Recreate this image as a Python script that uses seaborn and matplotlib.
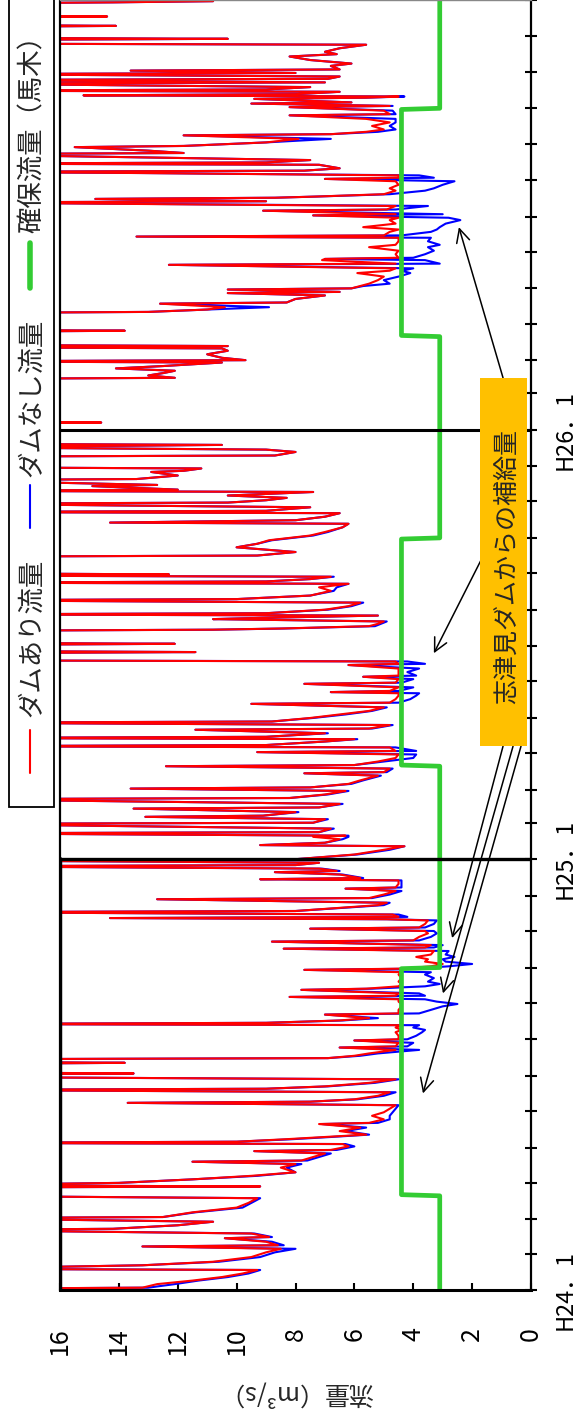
import matplotlib
matplotlib.use('Agg')
import matplotlib.pyplot as plt
import matplotlib.dates as mdates
from matplotlib.lines import Line2D
from matplotlib.patches import Rectangle
from matplotlib.ticker import FuncFormatter
import seaborn as sns
import pandas as pd

# daily flow at Magi (m3/s), day = days since 2012-01-01 (H24.1.1)
# values above 16 run off the chart, so they are only rough guesses
h24_day = [0, 1, 2, 5, 8, 11, 14, 17, 18, 20,
           21, 24, 28, 32, 35, 37, 38, 41, 44, 45,
           48, 51, 52, 55, 58, 61, 62, 66, 70, 74,
           78, 80, 87, 88, 89, 91, 94, 97, 100, 104,
           107, 109, 110, 113, 116, 118, 119, 122, 124, 125,
           126, 128, 130, 132, 135, 138, 141, 142, 145, 148,
           151, 154, 157, 159, 160, 162, 165, 168, 170, 171,
           173, 176, 179, 181, 183, 184, 185, 192, 193, 194,
           196, 197, 199, 201, 204, 206, 207, 210, 212, 213,
           216, 219, 221, 223, 225, 226, 227, 229, 231, 234,
           235, 238, 241, 243, 245, 247, 249, 250, 252, 255,
           256, 258, 260, 262, 265, 268, 270, 272, 273, 275,
           277, 279, 281, 283, 285, 288, 290, 291, 293, 296,
           297, 300, 303, 305, 307, 308, 311, 314, 315, 316,
           317, 319, 321, 322, 325, 327, 329, 332, 333, 336,
           339, 341, 342, 345, 348, 349, 350, 353, 355, 356,
           358, 360, 361, 363, 365]
h24_dam = [13.0, 20, 13.2, 12.7, 11.5, 10.5, 9.8, 9.3, 20, 15.6,
           13.2, 10.8, 9.5, 9.0, 8.5, 13.2, 8.6, 9.0, 10.4, 8.9,
           9.5, 20, 14.2, 12.0, 10.8, 20, 12.5, 11.5, 10.0, 9.6,
           9.3, 20, 20, 9.2, 20, 14.0, 11.5, 9.5, 8.0, 8.5,
           8.0, 11.5, 7.8, 7.4, 7.0, 9.4, 6.8, 6.2, 6.4, 20,
           10.0, 8.4, 7.0, 5.6, 6.5, 5.8, 7.2, 5.5, 5.0, 5.4,
           5.0, 4.8, 4.6, 13.7, 7.5, 6.0, 5.2, 4.8, 20, 9.0,
           7.0, 5.5, 4.6, 20, 20, 13.5, 20, 20, 13.8, 20,
           20, 6.9, 6.0, 5.5, 4.6, 6.5, 4.6, 4.5, 6.0, 4.5,
           4.5, 4.6, 4.4, 4.6, 4.4, 20, 9.0, 6.5, 5.5, 7.0,
           4.5, 4.5, 4.4, 4.4, 4.5, 4.5, 8.2, 4.6, 4.5, 7.8,
           5.6, 4.5, 4.4, 4.5, 4.4, 4.5, 4.4, 7.7, 4.4, 3.4,
           3.0, 3.6, 3.5, 3.9, 3.4, 3.3, 8.4, 3.6, 3.4, 8.8,
           4.0, 3.8, 3.5, 3.6, 7.5, 3.8, 3.6, 3.5, 4.9, 14.3,
           4.5, 4.7, 20, 8.0, 6.3, 5.2, 4.9, 12.7, 5.5, 5.0,
           4.6, 6.3, 4.6, 4.5, 4.5, 9.2, 5.8, 6.5, 8.7, 6.6,
           7.2, 20, 8.0, 7.2, 20]
h24_nodam = [13.0, 20, 13.0, 12.1, 11.3, 10.3, 9.6, 9.2, 20, 15.6,
             13.2, 10.6, 9.2, 8.7, 8.0, 13.2, 8.4, 8.8, 10.4, 8.8,
             9.4, 20, 14.2, 12.0, 10.8, 20, 12.5, 11.4, 9.8, 9.5,
             9.2, 20, 20, 9.2, 20, 14.0, 11.5, 9.3, 8.0, 8.3,
             7.8, 11.5, 7.6, 7.2, 6.8, 9.4, 6.6, 6.0, 6.3, 20,
             10.0, 8.2, 6.8, 5.5, 6.3, 5.6, 7.1, 5.2, 4.8, 4.8,
             4.7, 4.6, 4.5, 13.7, 7.5, 5.9, 5.0, 4.6, 20, 9.0,
             6.9, 5.3, 4.5, 20, 20, 13.5, 20, 20, 13.8, 20,
             20, 6.9, 5.8, 5.2, 3.8, 6.5, 4.2, 4.0, 6.0, 4.2,
             3.9, 3.7, 3.6, 4.0, 3.8, 20, 9.0, 6.4, 5.2, 7.0,
             3.8, 3.4, 3.0, 2.5, 3.2, 3.6, 8.2, 3.6, 3.8, 7.8,
             5.4, 3.6, 3.1, 3.5, 3.3, 3.6, 3.4, 7.7, 4.0, 2.8,
             2.0, 2.9, 3.0, 2.6, 2.9, 2.8, 8.4, 3.3, 3.0, 8.8,
             3.8, 3.4, 3.2, 3.3, 7.5, 3.6, 3.3, 3.2, 4.9, 14.3,
             4.2, 4.5, 20, 8.0, 6.2, 5.0, 4.8, 12.7, 5.4, 4.8,
             4.4, 6.3, 4.4, 4.4, 4.4, 9.2, 5.7, 6.4, 8.7, 6.5,
             7.1, 20, 8.0, 7.2, 20]

h25_day = [366, 370, 374, 377, 378, 380, 383, 385, 386, 388,
           389, 392, 396, 397, 400, 402, 403, 406, 409, 410,
           413, 417, 418, 421, 424, 426, 427, 430, 433, 437,
           439, 440, 443, 445, 446, 449, 452, 455, 457, 458,
           461, 462, 463, 466, 468, 469, 470, 473, 476, 477,
           480, 482, 483, 486, 489, 492, 495, 498, 499, 502,
           505, 507, 508, 509, 512, 515, 516, 519, 521, 522,
           525, 528, 531, 532, 534, 535, 541, 542, 543, 548,
           549, 550, 560, 561, 562, 564, 566, 568, 570, 571,
           573, 574, 575, 578, 581, 584, 586, 587, 590, 594,
           597, 600, 601, 602, 604, 606, 607, 608, 609, 623,
           624, 627, 631, 634, 637, 641, 644, 648, 651, 652,
           654, 657, 660, 661, 662, 665, 668, 669, 671, 673,
           675, 678, 679, 680, 683, 684, 688, 689, 692, 695,
           696, 698, 699, 708, 709, 712, 714, 716, 718, 719,
           730]
h25_dam = [8.0, 6.0, 5.0, 4.3, 9.2, 7.0, 6.5, 7.4, 6.3, 20,
           7.2, 6.8, 20, 7.4, 7.0, 13.1, 9.1, 8.0, 13.5, 7.2,
           6.5, 20, 8.2, 7.0, 6.3, 13.6, 7.5, 6.2, 5.8, 5.2,
           7.7, 5.0, 4.8, 12.4, 6.0, 5.2, 4.6, 4.5, 9.3, 4.6,
           4.8, 20, 9.0, 7.0, 6.0, 20, 9.0, 7.0, 11.4, 5.5,
           4.8, 20, 8.8, 7.5, 6.5, 5.5, 5.0, 9.5, 4.8, 4.6,
           4.5, 4.5, 6.8, 4.8, 4.5, 7.7, 4.6, 4.5, 5.7, 4.5,
           4.5, 4.5, 6.2, 4.5, 4.6, 20, 20, 11.4, 20, 20,
           12.1, 20, 20, 10.8, 8.5, 5.5, 5.2, 5.0, 10.8, 9.3,
           5.2, 20, 9.0, 7.0, 6.2, 5.8, 20, 10.0, 7.5, 6.8,
           7.2, 6.2, 20, 9.0, 7.5, 6.8, 20, 12.3, 20, 20,
           9.3, 8.0, 10.0, 9.3, 8.9, 7.5, 7.0, 6.4, 6.2, 14.3,
           8.0, 7.0, 6.5, 20, 9.0, 7.5, 20, 10.3, 9.0, 8.3,
           10.3, 7.4, 20, 12.0, 14.9, 12.7, 20, 13.4, 12.0, 12.9,
           11.8, 11.2, 20, 20, 8.7, 8.0, 9.0, 20, 10.5, 20,
           20]
h25_nodam = [8.0, 5.9, 4.8, 4.3, 9.2, 7.0, 6.4, 6.2, 6.2, 20,
             7.2, 6.7, 20, 7.4, 6.9, 13.1, 9.1, 7.9, 13.5, 7.2,
             6.4, 20, 8.2, 6.9, 6.2, 13.6, 7.5, 6.1, 5.7, 5.1,
             7.7, 4.9, 4.7, 12.4, 6.0, 5.0, 4.0, 3.9, 9.3, 3.9,
             4.6, 20, 9.0, 7.0, 5.9, 20, 9.0, 6.9, 11.4, 5.4,
             4.7, 20, 8.8, 7.4, 6.3, 5.4, 4.9, 9.5, 4.5, 4.1,
             3.9, 3.8, 6.8, 4.5, 4.0, 7.7, 4.4, 4.0, 5.7, 3.9,
             4.2, 3.8, 6.2, 3.6, 4.2, 20, 20, 11.4, 20, 20,
             12.1, 20, 20, 10.8, 8.4, 5.3, 5.1, 4.9, 10.8, 9.2,
             5.2, 20, 9.0, 6.9, 6.1, 5.7, 20, 10.0, 7.5, 6.7,
             6.6, 6.2, 20, 9.0, 7.5, 6.7, 20, 12.3, 20, 20,
             9.3, 8.0, 10.0, 9.3, 8.8, 7.4, 6.9, 6.4, 6.2, 14.3,
             8.0, 7.0, 6.5, 20, 9.0, 7.5, 20, 10.3, 9.0, 8.3,
             10.3, 7.4, 20, 12.0, 14.9, 12.7, 20, 13.4, 12.0, 12.9,
             11.8, 11.2, 20, 20, 8.7, 8.0, 9.0, 20, 10.5, 20,
             20]

h26_day = [731, 736, 737, 738, 774, 775, 777, 779, 781, 783,
           785, 788, 789, 790, 792, 795, 798, 800, 801, 802,
           803, 814, 815, 816, 830, 831, 833, 835, 838, 839,
           842, 845, 847, 848, 850, 851, 853, 855, 858, 861,
           864, 866, 868, 871, 872, 875, 876, 877, 880, 883,
           886, 888, 891, 894, 895, 896, 899, 901, 903, 906,
           909, 911, 913, 914, 917, 918, 921, 924, 925, 927,
           928, 929, 931, 934, 936, 939, 942, 944, 945, 947,
           949, 950, 951, 953, 956, 957, 958, 960, 965, 966,
           968, 971, 972, 975, 978, 981, 982, 984, 986, 989,
           992, 995, 998, 999, 1002, 1005, 1006, 1008, 1009, 1012,
           1013, 1014, 1015, 1016, 1018, 1019, 1020, 1022, 1025, 1026,
           1028, 1029, 1031, 1033, 1034, 1036, 1037, 1040, 1042, 1045,
           1048, 1050, 1052, 1055, 1058, 1059, 1062, 1063, 1064, 1073,
           1074, 1075, 1081, 1082, 1083, 1093, 1094, 1095]
h26_dam = [20, 20, 14.6, 20, 20, 12.1, 13.0, 12.5, 12.1, 14.1,
           12.5, 10.5, 20, 9.7, 10.5, 11.0, 10.3, 10.5, 20, 10.3,
           20, 20, 13.8, 20, 20, 13.0, 11.0, 10.4, 12.6, 8.3,
           8.0, 7.0, 10.3, 6.5, 10.3, 6.1, 5.8, 5.5, 5.2, 5.0,
           5.9, 4.8, 4.6, 12.3, 4.6, 7.1, 7.0, 4.5, 4.6, 4.5,
           5.5, 4.6, 4.5, 4.5, 13.4, 5.0, 4.8, 4.5, 5.7, 4.6,
           4.8, 4.5, 7.4, 4.6, 9.1, 4.9, 4.6, 20, 9.0, 14.8,
           8.7, 7.3, 5.0, 4.6, 4.8, 4.5, 4.6, 7.0, 4.5, 4.5,
           13.3, 20, 7.7, 6.5, 7.2, 20, 9.0, 7.5, 20, 11.8,
           13.0, 15.5, 11.8, 9.0, 7.9, 11.8, 6.8, 5.6, 5.0, 5.4,
           4.8, 5.6, 8.2, 4.8, 5.0, 8.2, 4.8, 9.5, 6.1, 9.4,
           5.6, 4.5, 15.2, 8.0, 6.5, 20, 9.0, 7.5, 20, 7.0,
           20, 6.9, 6.5, 20, 8.0, 13.6, 6.5, 6.8, 6.1, 7.5,
           8.2, 6.6, 7.0, 6.5, 5.6, 20, 20, 10.3, 20, 20,
           14.1, 20, 20, 14.4, 20, 20, 14.2, 10.8]
h26_nodam = [20, 20, 14.6, 20, 20, 12.1, 13.0, 12.5, 12.1, 14.1,
             12.5, 10.5, 20, 9.7, 10.5, 11.0, 10.3, 10.5, 20, 10.3,
             20, 20, 13.8, 20, 20, 13.0, 11.0, 8.9, 12.6, 8.3,
             8.0, 7.0, 10.3, 6.5, 10.3, 6.1, 5.7, 4.8, 5.0, 4.5,
             4.1, 4.4, 4.0, 12.3, 3.1, 3.6, 7.0, 4.0, 3.6, 3.3,
             3.5, 3.1, 3.5, 3.4, 13.4, 4.4, 3.4, 3.2, 3.1, 2.9,
             2.4, 2.8, 7.4, 3.0, 9.1, 4.6, 3.5, 20, 9.0, 14.8,
             8.7, 7.3, 4.8, 3.6, 3.3, 3.0, 2.6, 7.0, 3.3, 3.8,
             13.3, 20, 7.7, 6.5, 7.2, 20, 9.0, 7.5, 20, 11.8,
             13.0, 15.5, 11.8, 9.0, 6.8, 11.8, 6.8, 5.2, 4.6, 4.8,
             4.6, 4.6, 8.2, 4.6, 4.7, 8.2, 4.7, 9.5, 6.1, 9.4,
             5.6, 4.3, 15.2, 8.0, 6.5, 20, 9.0, 7.5, 20, 7.0,
             20, 6.9, 6.5, 20, 8.0, 13.6, 6.5, 6.8, 6.1, 7.5,
             8.2, 6.6, 7.0, 6.5, 5.6, 20, 20, 10.3, 20, 20,
             14.1, 20, 20, 14.4, 20, 20, 14.2, 10.8]

# secured flow at Magi (step between seasons)
kakuho_day = [0, 80, 81, 273, 274, 445, 446, 638, 639, 810, 811, 1003, 1004, 1096]
kakuho_q = [3.1, 3.1, 4.4, 4.4, 3.1, 3.1, 4.4, 4.4, 3.1, 3.1, 4.4, 4.4, 3.1, 3.1]

legend_labels = ['ダムあり流量', 'ダムなし流量', '確保流量（馬木）']
legend_colors = ['#FF0000', '#0000FF', '#33CC33']
box_label = '志津見ダムからの補給量'

# arrows from the orange box (flow, day)
arrow_tip_q = [2.45, 3.3, 2.68, 2.99, 3.67]
arrow_tip_day = [903, 541, 299, 252, 167]
arrow_from_q = [0.95, 1.7, 0.95, 0.61, 0.34]
arrow_from_day = [775, 620, 462, 462, 462]

sns.set_theme(style='white')
plt.rcParams['font.family'] = ['Noto Sans CJK JP', 'DejaVu Sans']

base = pd.Timestamp('2012-01-01')
end = pd.Timestamp('2015-01-01')


def to_dates(days):
    return base + pd.to_timedelta(days, unit='D')


flow = pd.concat([
    pd.DataFrame({'date': to_dates(h24_day), 'dam': h24_dam, 'nodam': h24_nodam}),
    pd.DataFrame({'date': to_dates(h25_day), 'dam': h25_dam, 'nodam': h25_nodam}),
    pd.DataFrame({'date': to_dates(h26_day), 'dam': h26_dam, 'nodam': h26_nodam}),
], ignore_index=True)
kakuho = pd.DataFrame({'date': to_dates(kakuho_day), 'q': kakuho_q})

W, H = 576, 1425
fig = plt.figure(figsize=(W / 100, H / 100), dpi=100)
ax = fig.add_axes([60 / W, 1 - 1290 / H, (531 - 60) / W, 1290 / H])

sns.lineplot(data=flow, x='nodam', y='date', orient='y', sort=False, estimator=None,
             color=legend_colors[1], lw=1.5, ax=ax, legend=False)
sns.lineplot(data=flow, x='dam', y='date', orient='y', sort=False, estimator=None,
             color=legend_colors[0], lw=1.5, ax=ax, legend=False)
sns.lineplot(data=kakuho, x='q', y='date', orient='y', sort=False, estimator=None,
             color=legend_colors[2], lw=3.4, ax=ax, legend=False)

ax.set_xlim(16, 0)
ax.set_ylim(base, end)
ax.set_xticks(range(0, 17, 2))
ax.tick_params(axis='x', direction='in', length=5, width=1.5, pad=27, labelsize=18,
               labelrotation=90, bottom=True, top=False, colors='black')

ax.yaxis.tick_right()
ax.yaxis.set_major_locator(mdates.MonthLocator())


def heisei(v, pos):
    d = mdates.num2date(v)
    if d.month == 1 and d.year < 2015:
        return f'H{d.year - 1988}．1'
    return ''


ax.yaxis.set_major_formatter(FuncFormatter(heisei))
ax.tick_params(axis='y', direction='inout', length=9, width=1.5, pad=12, labelsize=17,
               labelrotation=90, right=True, left=False, colors='black')
for lab in ax.get_yticklabels():
    lab.set_va('center')

ax.set_xlabel('流量（m³/s）', fontsize=18, rotation=180, va='center')
ax.xaxis.set_label_coords(0.5, -0.08)
ax.set_ylabel('')

for s in ['left', 'right']:
    ax.spines[s].set_color('black')
    ax.spines[s].set_linewidth(1.6)
ax.spines['bottom'].set_color('black')
ax.spines['bottom'].set_linewidth(2.2)
ax.spines['top'].set_color('#888888')
ax.spines['top'].set_linewidth(1)

# year frames
h25 = pd.Timestamp('2013-01-01')
h26 = pd.Timestamp('2014-01-01')
ax.axhline(h25, color='black', lw=2.4, zorder=3)
ax.axhline(h26, color='black', lw=2.2, zorder=3)
ax.axvline(16, ymin=0, ymax=(h25 - base) / (end - base), color='black', lw=3.2, zorder=3)

# orange note box
ax.add_patch(Rectangle((0.8917, 0.4217), 0.0998, 0.2853, transform=ax.transAxes,
                       facecolor='#FFC000', edgecolor='none', zorder=5))
ax.text(0.9495, 0.5605, box_label, rotation=90, ha='center', va='center',
        fontsize=18, transform=ax.transAxes, zorder=6)

for tq, td, fq, fd in zip(arrow_tip_q, arrow_tip_day, arrow_from_q, arrow_from_day):
    ax.annotate('', xy=(tq, mdates.date2num(to_dates([td])[0])),
                xytext=(fq, mdates.date2num(to_dates([fd])[0])),
                arrowprops=dict(arrowstyle='->,head_length=0.6,head_width=0.3',
                                color='black', lw=1.1, mutation_scale=16,
                                shrinkA=0, shrinkB=0),
                zorder=4)

# legend box drawn by hand (rotated text)
fig.add_artist(Rectangle((9 / W, 1 - 807 / H), 45 / W, 830 / H, transform=fig.transFigure,
                         facecolor='white', edgecolor='black', lw=1.3))
dash_span = [(730, 773), (485, 528), (243, 288)]
text_start = [717, 477, 233]
dash_lw = [1.5, 1.5, 4]
for lab, col, (y0, y1), ts, lw in zip(legend_labels, legend_colors, dash_span, text_start, dash_lw):
    fig.add_artist(Line2D([30 / W, 30 / W], [1 - y1 / H, 1 - y0 / H], color=col, lw=lw,
                          transform=fig.transFigure, solid_capstyle='round'))
    fig.text(32 / W, 1 - ts / H, lab, rotation=90, ha='center', va='bottom', fontsize=19)

plt.savefig('out.png', dpi=100)
plt.close()
